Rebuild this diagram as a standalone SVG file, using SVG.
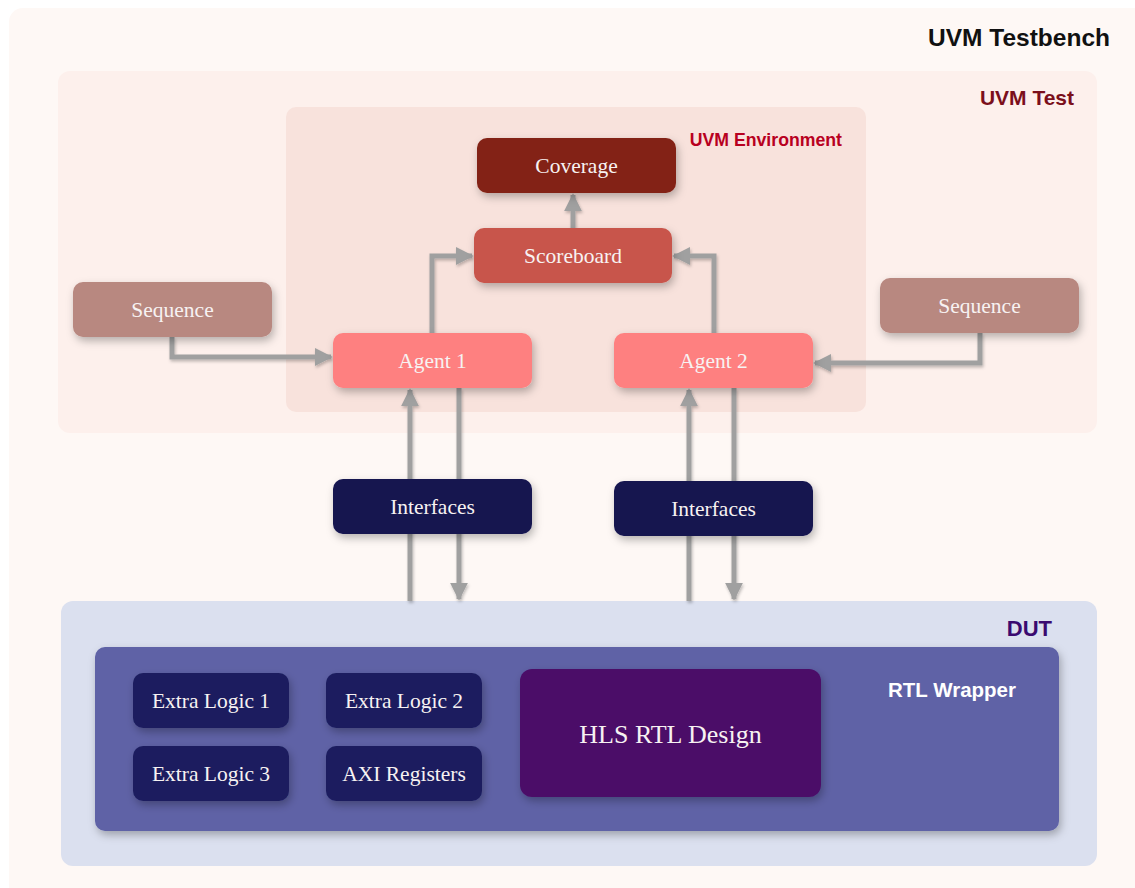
<svg xmlns="http://www.w3.org/2000/svg" width="1135" height="888" viewBox="0 0 1135 888">
  <defs>
    <filter id="shadow" x="-20%" y="-30%" width="140%" height="170%">
      <feDropShadow dx="2" dy="4" stdDeviation="4" flood-color="#000" flood-opacity="0.28"/>
    </filter>
    <filter id="lineShadow" x="-20%" y="-20%" width="140%" height="140%">
      <feDropShadow dx="1" dy="2" stdDeviation="1.5" flood-color="#000" flood-opacity="0.25"/>
    </filter>
    <marker id="arrow" viewBox="0 0 10 10" refX="9" refY="5" markerWidth="3.6" markerHeight="3.6" orient="auto" markerUnits="strokeWidth">
      <path d="M0,0 L10,5 L0,10 z" fill="#a0a0a0"/>
    </marker>
    <style>
      .node text { font-family: "Liberation Serif", "Times New Roman", serif; font-size: 21.5px; fill: #f7f2f2; text-anchor: middle; dominant-baseline: central; }
      .node rect { filter: url(#shadow); }
      .title { font-family: "Liberation Sans", Arial, sans-serif; font-weight: bold; text-anchor: end; }
      .conn { fill: none; stroke: #a0a0a0; stroke-width: 5; marker-end: url(#arrow); }
    </style>
  </defs>

  <rect width="1135" height="888" fill="#ffffff"/>

  <!-- containers -->
  <g id="uvm-testbench">
    <rect x="9" y="8" width="1140" height="895" rx="14" fill="#fef8f5"/>
    <text class="title" x="1110" y="46" font-size="24.5" fill="#111">UVM Testbench</text>
  </g>
  <g id="uvm-test">
    <rect x="58" y="71" width="1039" height="362" rx="12" fill="#fdf0ec"/>
    <text class="title" x="1074" y="105" font-size="21" fill="#7b0f1b">UVM Test</text>
  </g>
  <g id="uvm-environment">
    <rect x="286" y="107" width="580" height="305" rx="10" fill="#f8e2dc"/>
    <text class="title" x="842" y="146" font-size="17.7" fill="#b8001f">UVM Environment</text>
  </g>
  <g id="dut">
    <rect x="61" y="601" width="1036" height="265" rx="12" fill="#dbe0ef"/>
    <text class="title" x="1052" y="636" font-size="22" fill="#3a0a70">DUT</text>
  </g>
  <g id="rtl-wrapper">
    <rect x="95" y="647" width="964" height="184" rx="10" fill="#5e62a6" filter="url(#shadow)"/>
    <text class="title" x="1016" y="697" font-size="20.5" fill="#ffffff">RTL Wrapper</text>
  </g>

  <!-- connectors -->
  <g id="connectors" filter="url(#lineShadow)">
    <path class="conn" d="M172,337 V357 H331"/>
    <path class="conn" d="M980,333 V363 H815"/>
    <path class="conn" d="M432,333 V256 H472"/>
    <path class="conn" d="M714,333 V256 H674"/>
    <path class="conn" d="M573,228 V195"/>
    <path class="conn" d="M410,601 V390"/>
    <path class="conn" d="M459,388 V599"/>
    <path class="conn" d="M689,601 V390"/>
    <path class="conn" d="M734,388 V599"/>
  </g>

  <!-- environment components -->
  <g id="coverage" class="node">
    <rect x="477" y="138" width="199" height="55" rx="10" fill="#832316"/>
    <text x="576.5" y="166">Coverage</text>
  </g>
  <g id="scoreboard" class="node">
    <rect x="474" y="228" width="198" height="55" rx="10" fill="#c8554b"/>
    <text x="573" y="256">Scoreboard</text>
  </g>
  <g id="agent-1" class="node">
    <rect x="333" y="333" width="199" height="55" rx="10" fill="#fe8080"/>
    <text x="432.5" y="361">Agent 1</text>
  </g>
  <g id="agent-2" class="node">
    <rect x="614" y="333" width="199" height="55" rx="10" fill="#fe8080"/>
    <text x="713.5" y="361">Agent 2</text>
  </g>
  <g id="sequence-1" class="node">
    <rect x="73" y="282" width="199" height="55" rx="10" fill="#b88880"/>
    <text x="172.5" y="310">Sequence</text>
  </g>
  <g id="sequence-2" class="node">
    <rect x="880" y="278" width="199" height="55" rx="10" fill="#b88880"/>
    <text x="979.5" y="306">Sequence</text>
  </g>

  <!-- interfaces -->
  <g id="interfaces-1" class="node">
    <rect x="333" y="479" width="199" height="55" rx="10" fill="#141450"/>
    <text x="432.5" y="507">Interfaces</text>
  </g>
  <g id="interfaces-2" class="node">
    <rect x="614" y="481" width="199" height="55" rx="10" fill="#141450"/>
    <text x="713.5" y="509">Interfaces</text>
  </g>

  <!-- RTL wrapper contents -->
  <g id="extra-logic-1" class="node">
    <rect x="133" y="673" width="156" height="55" rx="10" fill="#1c1e5f"/>
    <text x="211" y="701">Extra Logic 1</text>
  </g>
  <g id="extra-logic-2" class="node">
    <rect x="326" y="673" width="156" height="55" rx="10" fill="#1c1e5f"/>
    <text x="404" y="701">Extra Logic 2</text>
  </g>
  <g id="extra-logic-3" class="node">
    <rect x="133" y="746" width="156" height="55" rx="10" fill="#1c1e5f"/>
    <text x="211" y="774">Extra Logic 3</text>
  </g>
  <g id="axi-registers" class="node">
    <rect x="326" y="746" width="156" height="55" rx="10" fill="#1c1e5f"/>
    <text x="404" y="774">AXI Registers</text>
  </g>
  <g id="hls-rtl-design" class="node">
    <rect x="520" y="669" width="301" height="128" rx="12" fill="#4b0c68"/>
    <text x="670.5" y="734" style="font-size:26px">HLS RTL Design</text>
  </g>
</svg>
